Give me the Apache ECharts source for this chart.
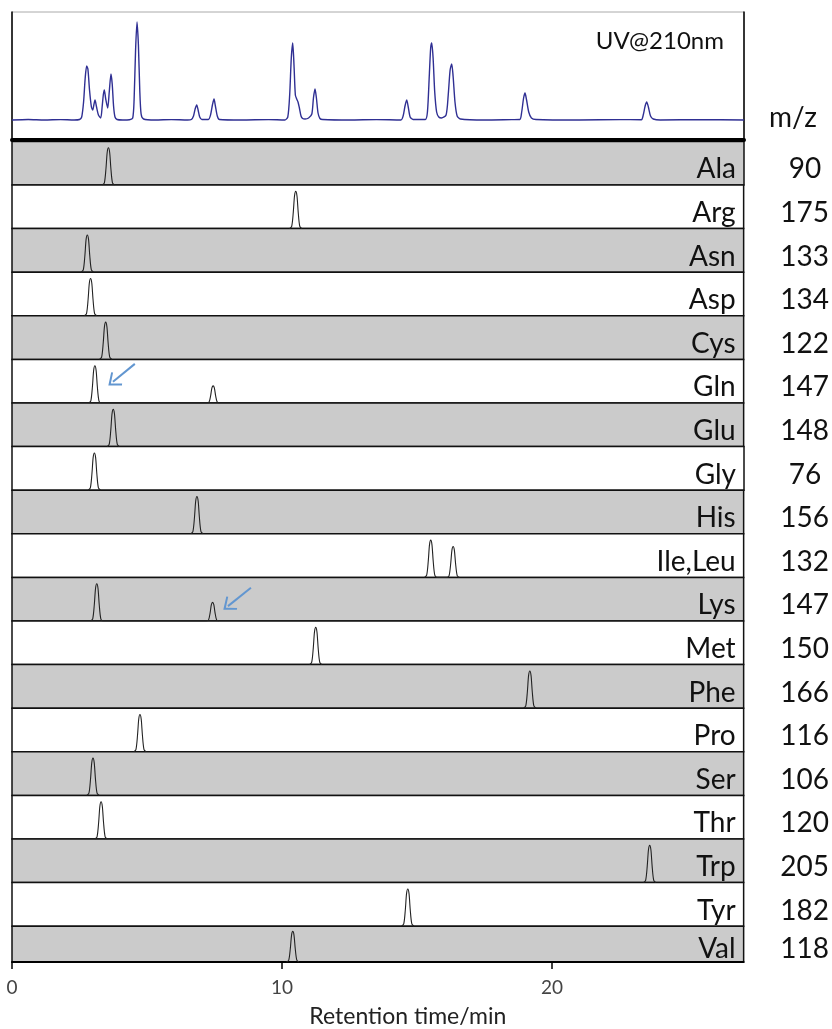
<!DOCTYPE html>
<html>
<head>
<meta charset="utf-8">
<script src="https://cdn.jsdelivr.net/npm/echarts@6/dist/echarts.min.js"></script>
<style>
html,body{margin:0;padding:0;background:#fff;}
#chart{width:832px;height:1029px;}
</style>
</head>
<body>
<div id="chart"></div>
<script>
// ---------- data ----------
const xMax = 27.1;
const xTicks = [0, 10, 20];
const aminoAcids = ['Ala','Arg','Asn','Asp','Cys','Gln','Glu','Gly','His','Ile,Leu','Lys','Met','Phe','Pro','Ser','Thr','Trp','Tyr','Val'];
const mzValues = [90,175,133,134,122,147,148,76,156,132,147,150,166,116,106,120,205,182,118];
const peakTimes = [[3.57],[10.51],[2.79],[2.91],[3.47],[3.07,7.45],[3.75],[3.05],[6.85],[15.51,16.34],[3.14,7.43],[11.25],[19.18],[4.74],[3.00],[3.30],[23.62],[14.66],[10.40]];
const peakHeights = [[1],[1],[1],[1],[1],[1,0.46],[1],[1],[1],[1,0.83],[1,0.5],[1],[1],[1],[1],[1],[1],[1],[1]];
// shape of one extracted-ion peak (offset in min, relative height)
const peakProfileOffsets = [-0.23,-0.15,-0.09,-0.045,0,0.045,0.09,0.15,0.23];
const peakProfileHeights = [0,0.06,0.45,0.88,1,0.88,0.45,0.06,0];
// UV@210nm trace [time (min), signal (a.u.)]
const uvTrace = [
[0,0],[0.6,0.5],[1.2,0],[1.8,0.4],[2.3,0],[2.5,0.5],
[2.58,3],[2.65,18],[2.71,42],[2.765,54],[2.81,51],[2.87,30],[2.94,13],[2.988,10],[3.03,15],[3.073,20],[3.13,13],[3.2,5],[3.284,2],[3.34,14],[3.38,25],[3.417,30],[3.47,21],[3.543,12],[3.6,28],[3.665,46],[3.71,36],[3.76,14],[3.813,3],[3.89,0.5],
[4.1,0],[4.35,0.3],[4.469,2],[4.52,20],[4.575,70],[4.628,98],[4.68,75],[4.73,30],[4.78,6],[4.87,1],[5.3,0],[5.9,0.4],[6.5,0],[6.64,0.5],[6.72,4],[6.78,11],[6.838,15],[6.89,10],[6.95,3],[7.03,0.5],[7.27,0.5],[7.35,5],[7.42,15],[7.479,21],[7.53,14],[7.6,4],[7.68,0.5],
[8.5,0],[9.5,0.4],[10.1,0],[10.21,3],[10.28,25],[10.34,62],[10.393,77],[10.44,55],[10.49,25],[10.54,21],[10.589,18],[10.64,12],[10.7,4],[10.76,1.5],[10.85,1],[10.98,2],[11.1,6],[11.16,22],[11.218,31],[11.27,22],[11.33,7],[11.4,1.5],[11.5,0.5],
[12.5,0],[13.5,0.4],[14.4,0],[14.48,4],[14.55,14],[14.613,20],[14.67,13],[14.74,3],[14.85,0.5],
[15.3,0.5],[15.38,8],[15.45,45],[15.5,72],[15.539,77],[15.59,62],[15.65,28],[15.72,8],[15.8,3],[15.9,2],[16.07,5],[16.15,25],[16.22,50],[16.279,56],[16.33,44],[16.4,18],[16.48,4],[16.6,1],
[17.5,0],[18.5,0.4],[18.8,0.5],[18.87,8],[18.94,22],[18.993,27],[19.05,20],[19.13,8],[19.23,2],[19.4,0.5],[21,0],[22.5,0.4],[23.3,0.3],[23.37,5],[23.44,14],[23.498,18],[23.56,13],[23.64,4],[23.74,1],[24,0],[25.5,0.4],[27.1,0]
];
// blue arrows (strip index, start [t, y], end [t, y])
const arrowStrips = [5, 10];
const arrowStarts = [[4.55,1.05],[8.85,0.89]];
const arrowEnds = [[3.74,0.57],[8.0,0.40]];

// ---------- layout ----------
const FONT = 'Lato';
const L = 12, R = 88;
const uvTop = 12, uvHeight = 128;
const stripTop = 141.4, stripH = 43.6;
const stripMax = 1.17;
const labelVal = 0.42;
const chevron = 'path://M0,0 L10,11 L8.4,12.4 L0,3.4 L-8.4,12.4 L-10,11 Z';

const grids = [{left:L, right:R, top:uvTop, height:uvHeight, show:true, backgroundColor:'#fff', borderColor:'#aaaaaa', borderWidth:1}];
const xAxes = [{
  gridIndex:0, type:'value', min:0, max:xMax,
  axisLine:{show:true, onZero:false, lineStyle:{color:'#000', width:4}},
  axisTick:{show:false}, axisLabel:{show:false}, splitLine:{show:false}
}];
const yAxes = [
  {gridIndex:0, type:'value', min:-20, max:108, position:'left',
   axisLine:{show:true, lineStyle:{color:'#000', width:1.5}}, axisTick:{show:false}, axisLabel:{show:false}, splitLine:{show:false}},
  {gridIndex:0, type:'value', min:-20, max:108, interval:22, position:'right',
   axisLine:{show:true, lineStyle:{color:'#000', width:1.5}}, axisTick:{show:false}, splitLine:{show:false},
   axisLabel:{show:true, margin:49, align:'center', fontSize:28, fontFamily:FONT, color:'#111',
     formatter: v => (Math.abs(v-2) < 1e-6 ? 'm/z' : '')}}
];
const series = [{
  type:'line', xAxisIndex:0, yAxisIndex:0, data:uvTrace, showSymbol:false, smooth:0.25,
  lineStyle:{color:'#2f2f93', width:1.4}, silent:true
}];

aminoAcids.forEach((name, i) => {
  const gi = i + 1;
  grids.push({left:L, right:R, top:stripTop + i*stripH, height:stripH, show:true,
    backgroundColor: i % 2 === 0 ? '#cbcbcb' : '#ffffff', borderColor:'#111', borderWidth:1.5});
  const last = i === aminoAcids.length - 1;
  xAxes.push(last ? {
    gridIndex:gi, type:'value', min:0, max:xMax,
    axisLine:{show:true, onZero:false, lineStyle:{color:'#000', width:2}},
    axisTick:{show:true, inside:false, length:7, customValues:xTicks, lineStyle:{color:'#000', width:1.5}},
    axisLabel:{show:true, customValues:xTicks, margin:16, fontSize:19, fontFamily:FONT, color:'#444'},
    splitLine:{show:false},
    name:'Retention time/min', nameLocation:'middle', nameGap:43,
    nameTextStyle:{fontSize:23, fontFamily:FONT, color:'#222', padding:[0,0,0,60]}
  } : {gridIndex:gi, type:'value', min:0, max:xMax, show:false});
  const yA = yAxes.length;
  yAxes.push({gridIndex:gi, type:'value', min:0, max:stripMax, interval:labelVal, position:'right',
    axisLine:{show:false}, axisTick:{show:false}, splitLine:{show:false},
    axisLabel:{show:true, margin:61, align:'center', fontSize:28, fontFamily:FONT, color:'#111',
      formatter: v => (Math.abs(v-labelVal) < 1e-6 ? String(mzValues[i]) : '')}});
  yAxes.push({gridIndex:gi, type:'value', min:0, max:stripMax, interval:labelVal, position:'right',
    axisLine:{show:false}, axisTick:{show:false}, splitLine:{show:false},
    axisLabel:{show:true, inside:true, margin:8, fontSize:28, fontFamily:FONT, color:'#111',
      formatter: v => (Math.abs(v-labelVal) < 1e-6 ? name : '')}});
  const data = [];
  peakTimes[i].forEach((t, k) => {
    const h = peakHeights[i][k];
    peakProfileOffsets.forEach((o, j) => data.push([t + o, h * peakProfileHeights[j]]));
  });
  const s = {type:'line', xAxisIndex:gi, yAxisIndex:yA, data:data, showSymbol:false, smooth:0.3,
    lineStyle:{color:'#222', width:1.1}, silent:true};
  const ai = arrowStrips.indexOf(i);
  if (ai >= 0) {
    s.markLine = {silent:true, symbol:['none', chevron], symbolSize:[17,12],
      lineStyle:{color:'#6296d0', width:2, type:'solid'}, label:{show:false},
      data:[[{coord:arrowStarts[ai]}, {coord:arrowEnds[ai]}]]};
  }
  series.push(s);
});

const chart = echarts.init(document.getElementById('chart'), null, {renderer:'canvas'});
chart.setOption({
  animation:false,
  backgroundColor:'#fff',
  title:{text:'UV@210nm', right:108, top:29, padding:0,
    textStyle:{fontSize:24, fontWeight:'normal', fontFamily:FONT, color:'#111'}},
  grid:grids, xAxis:xAxes, yAxis:yAxes, series:series
});
</script>
</body>
</html>
